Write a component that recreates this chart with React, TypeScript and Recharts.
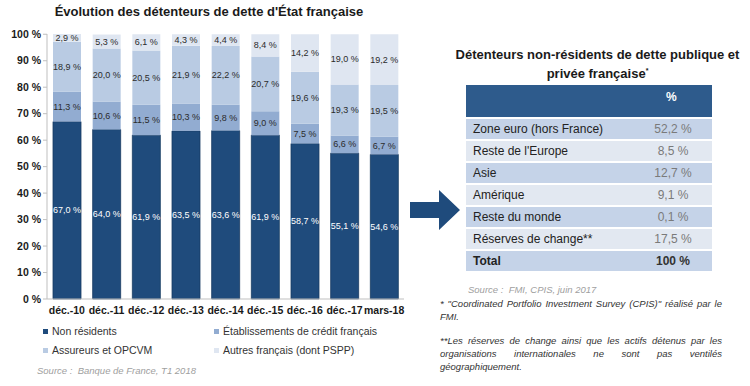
import React from "react";
import { BarChart, Bar, XAxis, YAxis, LabelList } from "recharts";

const periods = ["déc.-10", "déc.-11", "déc.-12", "déc.-13", "déc.-14", "déc.-15", "déc.-16", "déc.-17", "mars-18"];
const nonResidents = [67.0, 64.0, 61.9, 63.5, 63.6, 61.9, 58.7, 55.1, 54.6];
const etablissements = [11.3, 10.6, 11.5, 10.3, 9.8, 9.0, 7.5, 6.6, 6.7];
const assureurs = [18.9, 20.0, 20.5, 21.9, 22.2, 20.7, 19.6, 19.3, 19.5];
const autres = [2.9, 5.3, 6.1, 4.3, 4.4, 8.4, 14.2, 19.0, 19.2];
const yTicks = [0, 10, 20, 30, 40, 50, 60, 70, 80, 90, 100];

const regions = ["Zone euro (hors France)", "Reste de l'Europe", "Asie", "Amérique", "Reste du monde", "Réserves de change**"];
const regionShares = ["52,2 %", "8,5 %", "12,7 %", "9,1 %", "0,1 %", "17,5 %"];

const series = [
  { key: "nonResidents", name: "Non résidents", color: "#1f4b7c", text: "#ffffff" },
  { key: "etablissements", name: "Établissements de crédit français", color: "#92acd1", text: "#2b2b2b" },
  { key: "assureurs", name: "Assureurs et OPCVM", color: "#b9cbe3", text: "#2b2b2b" },
  { key: "autres", name: "Autres français (dont PSPP)", color: "#dfe6f1", text: "#2b2b2b" },
];

const data = periods.map((p, i) => ({
  period: p,
  nonResidents: nonResidents[i],
  etablissements: etablissements[i],
  assureurs: assureurs[i],
  autres: autres[i],
}));

const FONT = '"Liberation Sans", Arial, sans-serif';

const fmt = (v: any) => Number(v).toFixed(1).replace(".", ",") + " %";

// étiquette centrée dans le segment, sans retour à la ligne
const segLabel = (color: string) => (props: any) => {
  const { x, y, width, height, value } = props;
  return (
    <text
      x={Number(x) + Number(width) / 2}
      y={Number(y) + Number(height) / 2}
      textAnchor="middle"
      dominantBaseline="central"
      fontSize={9}
      fontFamily={FONT}
      fill={color}
    >
      {fmt(value)}
    </text>
  );
};

export default function App() {
  return (
    <div style={{ position: "absolute", left: 0, top: 0, width: 750, height: 386, background: "#fff", fontFamily: FONT, overflow: "hidden" }}>
      <div style={{ position: "absolute", left: 0, top: 4, width: 418, textAlign: "center", fontWeight: "bold", fontSize: 13, color: "#1a1a1a" }}>
        Évolution des détenteurs de dette d'État française
      </div>
      <div style={{ position: "absolute", left: 0, top: 0 }}>
        <BarChart width={420} height={320} data={data} margin={{ top: 34, right: 16, left: 0, bottom: 0 }}>
          <XAxis
            dataKey="period"
            height={21}
            tickLine={false}
            stroke="#bfbfbf"
            tick={{ fontSize: 10.5, fontWeight: "bold", fill: "#1a1a1a", fontFamily: FONT }}
            interval={0}
          />
          <YAxis
            width={47}
            domain={[0, 100]}
            ticks={yTicks}
            tickSize={4}
            stroke="#bfbfbf"
            tickFormatter={(v) => `${v} %`}
            tick={{ fontSize: 10.5, fontWeight: "bold", fill: "#1a1a1a", fontFamily: FONT }}
          />
          {series.map((s) => (
            <Bar
              key={s.key}
              dataKey={s.key}
              name={s.name}
              stackId="a"
              fill={s.color}
              barSize={28}
              stroke={s.key === "nonResidents" ? "#183b62" : "none"}
              strokeWidth={0.8}
              isAnimationActive={false}
            >
              <LabelList dataKey={s.key} content={segLabel(s.text)} />
            </Bar>
          ))}
        </BarChart>
      </div>

      {/* légende */}
      {series.map((s, i) => (
        <div
          key={s.key}
          style={{
            position: "absolute",
            left: i % 2 === 0 ? 43 : 214,
            top: i < 2 ? 325 : 344,
            fontSize: 10.5,
            color: "#333",
            display: "flex",
            alignItems: "center",
            whiteSpace: "nowrap",
          }}
        >
          <span style={{ display: "inline-block", width: 5, height: 5, background: s.color, marginRight: 4 }} />
          {s.name}
        </div>
      ))}
      <div style={{ position: "absolute", left: 37, top: 365, fontSize: 9.5, fontStyle: "italic", color: "#a0a0a0" }}>
        Source :&nbsp;&nbsp;Banque de France, T1 2018
      </div>

      {/* flèche */}
      <svg style={{ position: "absolute", left: 0, top: 0 }} width={750} height={386}>
        <polygon points="410,202 439,202 439,190 460,210 439,230 439,218 410,218" fill="#1f4b7c" />
      </svg>

      {/* tableau */}
      <div style={{ position: "absolute", left: 440, top: 47, width: 315, textAlign: "center", fontWeight: "bold", fontSize: 13, lineHeight: "16px", color: "#1a1a1a" }}>
        Détenteurs non-résidents de dette publique et
        <br />
        privée française<sup style={{ fontSize: 7 }}>*</sup>
      </div>
      <div style={{ position: "absolute", left: 466, top: 85, width: 246 }}>
        <div style={{ height: 32, background: "#2e5b8c", position: "relative" }}>
          <span style={{ position: "absolute", left: 200, top: 5, color: "#fff", fontWeight: "bold", fontSize: 12 }}>%</span>
        </div>
        {[...regions, "Total"].map((r, i) => {
          const total = i === regions.length;
          return (
            <div
              key={r}
              style={{
                height: 20,
                marginTop: 2,
                background: i % 2 === 0 ? "#c5d3e8" : "#e2e8f1",
                position: "relative",
                fontSize: 12,
                fontWeight: total ? "bold" : "normal",
              }}
            >
              <span style={{ position: "absolute", left: 7, top: 3, color: "#222" }}>{r}</span>
              <span style={{ position: "absolute", left: 170, width: 74, top: 3, textAlign: "center", color: total ? "#333" : "#7a7a7a" }}>
                {total ? "100 %" : regionShares[i]}
              </span>
            </div>
          );
        })}
      </div>

      <div style={{ position: "absolute", left: 468, top: 284, fontSize: 9.5, fontStyle: "italic", color: "#a0a0a0" }}>
        Source :&nbsp;&nbsp;FMI, CPIS, juin 2017
      </div>
      <div style={{ position: "absolute", left: 440, top: 297, width: 282, fontSize: 9.5, lineHeight: "13px", fontStyle: "italic", color: "#333", textAlign: "justify" }}>
        * "Coordinated Portfolio Investment Survey (CPIS)" réalisé par le FMI.
        <div style={{ height: 11 }} />
        **Les réserves de change ainsi que les actifs détenus par les organisations internationales ne sont pas ventilés géographiquement.
      </div>
    </div>
  );
}
